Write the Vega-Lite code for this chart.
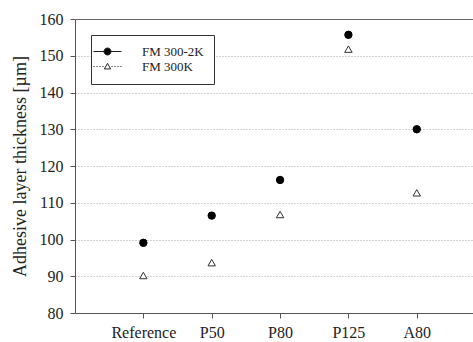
{
  "$schema": "https://vega.github.io/schema/vega-lite/v6.json",
  "autosize": "none",
  "width": 400,
  "height": 294,
  "padding": {"left": 75, "top": 19, "right": -2, "bottom": 29},
  "background": "white",
  "config": {
    "font": "Liberation Serif",
    "view": {"stroke": null}
  },
  "data": {
    "values": [
      {"sample": "Reference", "series": "FM 300-2K", "thickness": 99.1},
      {"sample": "P50", "series": "FM 300-2K", "thickness": 106.5},
      {"sample": "P80", "series": "FM 300-2K", "thickness": 116.2},
      {"sample": "P125", "series": "FM 300-2K", "thickness": 155.7},
      {"sample": "A80", "series": "FM 300-2K", "thickness": 130.0},
      {"sample": "Reference", "series": "FM 300K", "thickness": 90.2},
      {"sample": "P50", "series": "FM 300K", "thickness": 93.7},
      {"sample": "P80", "series": "FM 300K", "thickness": 106.8},
      {"sample": "P125", "series": "FM 300K", "thickness": 151.8},
      {"sample": "A80", "series": "FM 300K", "thickness": 112.7}
    ]
  },
  "mark": {
    "type": "point",
    "size": 55,
    "strokeWidth": 1,
    "opacity": 1,
    "fillOpacity": 1,
    "shape": {"expr": "datum.series === 'FM 300-2K' ? 'circle' : datum.series === 'FM 300K' ? 'triangle-up' : datum.value === 'FM 300-2K' ? 'M-4,0L-1,0M1,0L4,0M1,0A1,1,0,1,1,-1,0A1,1,0,1,1,1,0Z' : 'M-4,0L-3.7,0M-3.15,0L-2.85,0M-2.3,0L-2,0M-1.45,0L-1.15,0M1.15,0L1.45,0M2,0L2.3,0M2.85,0L3.15,0M3.7,0L4,0M0,-0.9L0.9,0.7L-0.9,0.7Z'"},
    "stroke": {"expr": "datum.series === 'FM 300K' ? '#333' : 'black'"}
  },
  "encoding": {
    "x": {
      "field": "sample",
      "type": "ordinal",
      "sort": ["Reference", "P50", "P80", "P125", "A80"],
      "scale": {"type": "point", "padding": 0.926, "align": 0.54},
      "axis": {
        "title": null,
        "labelAngle": 0,
        "labelFontSize": 16,
        "labelColor": "#222",
        "labelPadding": 6,
        "tickSize": 5,
        "tickColor": "#555",
        "domainColor": "#555",
        "grid": false
      }
    },
    "y": {
      "field": "thickness",
      "type": "quantitative",
      "scale": {"domain": [80, 160], "nice": false, "zero": false},
      "axis": {
        "title": "Adhesive layer thickness [µm]",
        "titleFontSize": 18,
        "titleFontWeight": "normal",
        "titleColor": "#222",
        "titlePadding": 10,
        "values": [80, 90, 100, 110, 120, 130, 140, 150, 160],
        "labelFontSize": 16,
        "labelColor": "#222",
        "labelPadding": 7,
        "labelOverlap": false,
        "tickSize": 5,
        "tickColor": "#555",
        "domainColor": "#555",
        "grid": true,
        "gridColor": {"condition": {"test": "datum.value === 160", "value": "#666"}, "value": "#aaa"},
        "gridDash": {"condition": {"test": "datum.value === 160", "value": []}, "value": [1, 2]},
        "gridWidth": 1
      }
    },
    "fill": {
      "field": "series",
      "type": "nominal",
      "scale": {"domain": ["FM 300-2K", "FM 300K"], "range": ["black", "white"]},
      "legend": {
        "title": null,
        "orient": "top-left",
        "offset": 16,
        "strokeColor": "#333",
        "fillColor": "white",
        "padding": 10,
        "labelFontSize": 13,
        "labelColor": "#222",
        "labelOffset": 28,
        "symbolSize": 49,
        "symbolStrokeWidth": 1,
        "symbolStrokeColor": "#222",
        "rowPadding": 1
      }
    }
  }
}
